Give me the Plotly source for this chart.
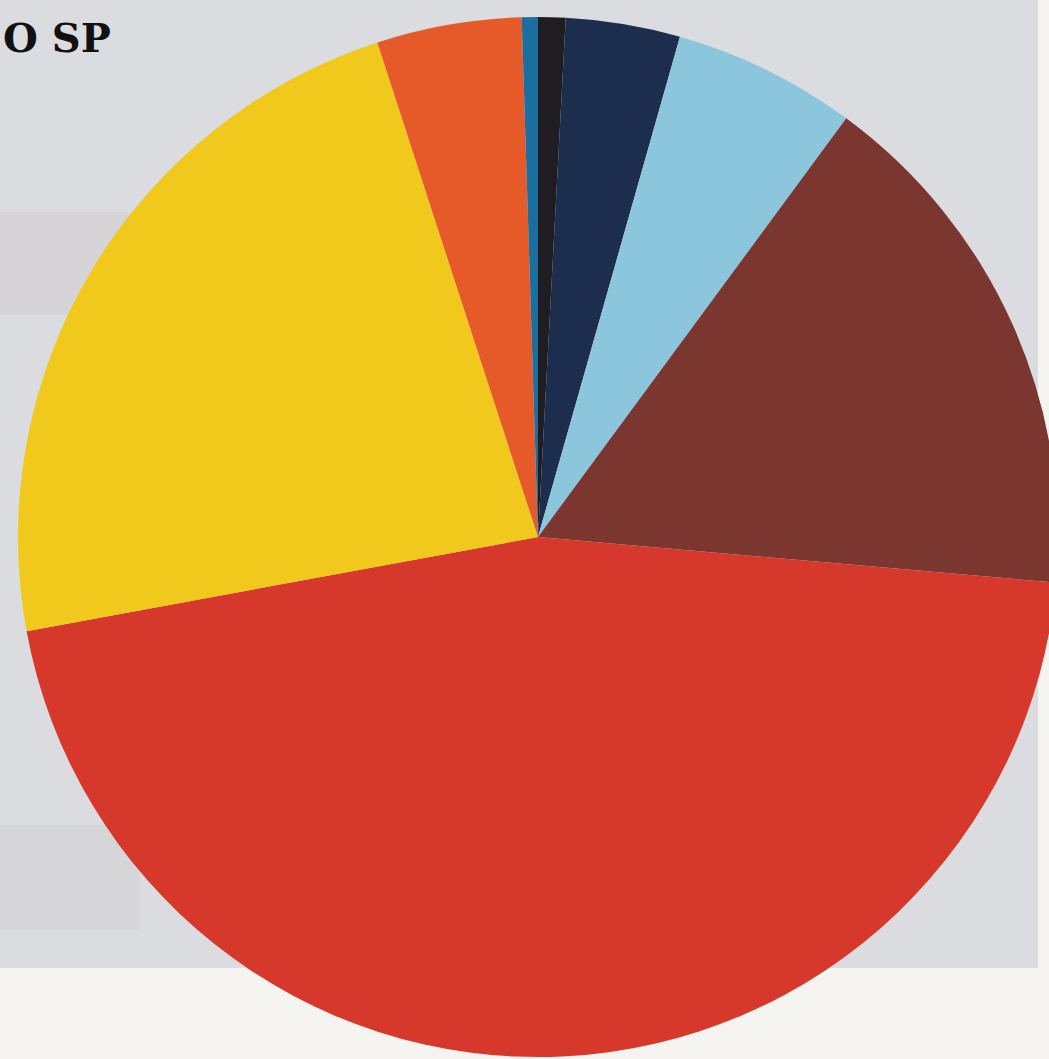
import plotly.graph_objects as go

# Slices, clockwise from 12 o'clock
labels = ["Preto", "Azul-marinho", "Azul-claro", "Marrom", "Vermelho", "Amarelo", "Laranja", "Azul"]
values = [0.85, 3.55, 5.7, 16.3, 45.7, 22.9, 4.5, 0.5]
colors = ["#1f1d22", "#1d2d4e", "#8cc6dc", "#7b3630", "#d6392b", "#f0c91c", "#e65a2a", "#1b6f9e"]

title_text = "O SP"

W, H = 1060, 1059
cx, cy, r = 538, 537, 520

fig = go.Figure(go.Pie(
    labels=labels,
    values=values,
    marker=dict(colors=colors, line=dict(width=0)),
    sort=False,
    direction="clockwise",
    rotation=0,
    textinfo="none",
    hoverinfo="label+percent",
    showlegend=False,
    domain=dict(x=[(cx - r) / W, (cx + r) / W],
                y=[(H - cy - r) / H, (H - cy + r) / H]),
))

fig.update_layout(
    width=W, height=H,
    margin=dict(l=0, r=0, t=0, b=0),
    paper_bgcolor="#f6f4f1",
    plot_bgcolor="#f6f4f1",
    shapes=[
        dict(type="rect", xref="paper", yref="paper", layer="below",
             x0=0, x1=1038 / W, y0=1 - 968 / H, y1=1,
             fillcolor="#dbdcdf", line=dict(width=0)),
        dict(type="rect", xref="paper", yref="paper", layer="below",
             x0=0, x1=255 / W, y0=1 - 315 / H, y1=1 - 212 / H,
             fillcolor="#d3cfd2", line=dict(width=0), opacity=0.6),
        dict(type="rect", xref="paper", yref="paper", layer="below",
             x0=0, x1=140 / W, y0=1 - 930 / H, y1=1 - 825 / H,
             fillcolor="#d2d2d6", line=dict(width=0), opacity=0.6),
    ],
    annotations=[
        dict(text="<b>" + title_text + "</b>", xref="paper", yref="paper",
             x=1 / W, y=1 - 37 / H, xanchor="left", yanchor="middle",
             showarrow=False,
             font=dict(family="DejaVu Serif", size=40, color="#111111")),
    ],
)

fig.write_html("out.html", config={"displayModeBar": False},
               post_script="document.body.style.margin='0px';document.body.style.overflow='hidden';")
